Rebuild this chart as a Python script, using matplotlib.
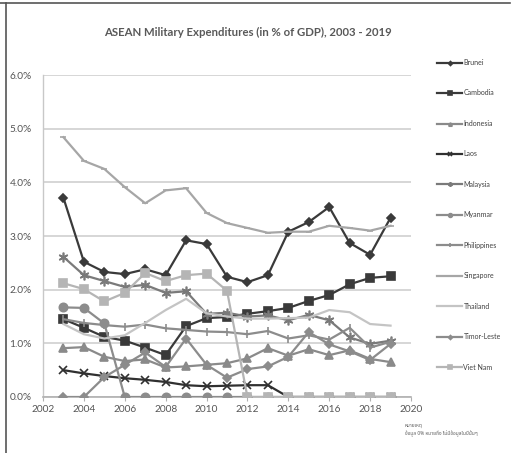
import matplotlib
matplotlib.use('Agg')
from matplotlib import pyplot as plt
from matplotlib.lines import Line2D
from matplotlib.ticker import FuncFormatter

years = list(range(2003, 2020))

countries = ['Brunei', 'Cambodia', 'Indonesia', 'Laos', 'Malaysia', 'Myanmar',
             'Philippines', 'Singapore', 'Thailand', 'Timor-Leste', 'Viet Nam']

# % of GDP (0 = no data)
brunei = [3.71, 2.52, 2.33, 2.29, 2.38, 2.27, 2.92, 2.85, 2.24, 2.14, 2.27, 3.08, 3.26, 3.54, 2.87, 2.65, 3.34]
cambodia = [1.45, 1.29, 1.12, 1.05, 0.92, 0.78, 1.32, 1.47, 1.49, 1.55, 1.60, 1.66, 1.79, 1.90, 2.10, 2.22, 2.25]
indonesia = [0.91, 0.93, 0.75, 0.67, 0.70, 0.55, 0.57, 0.60, 0.63, 0.72, 0.91, 0.77, 0.89, 0.78, 0.87, 0.71, 0.65]
laos = [0.50, 0.44, 0.39, 0.35, 0.32, 0.28, 0.22, 0.20, 0.21, 0.22, 0.22, 0, 0, 0, 0, 0, 0]
malaysia = [2.61, 2.27, 2.16, 2.05, 2.09, 1.94, 1.97, 1.55, 1.57, 1.50, 1.52, 1.43, 1.53, 1.43, 1.11, 0.99, 1.05]
myanmar = [1.67, 1.66, 1.37, 0, 0, 0, 0, 0, 0, 0, 0, 0, 0, 0, 0, 0, 0]
philippines = [1.45, 1.38, 1.34, 1.31, 1.35, 1.28, 1.25, 1.22, 1.21, 1.17, 1.23, 1.09, 1.15, 1.07, 1.29, 0.92, 1.03]
singapore = [4.84, 4.40, 4.25, 3.91, 3.61, 3.85, 3.89, 3.43, 3.24, 3.15, 3.06, 3.08, 3.08, 3.19, 3.15, 3.10, 3.19]
thailand = [1.36, 1.17, 1.09, 1.15, 1.38, 1.62, 1.83, 1.56, 1.50, 1.46, 1.46, 1.47, 1.48, 1.62, 1.58, 1.36, 1.33]
timor_leste = [0, 0, 0.37, 0.60, 0.83, 0.56, 1.09, 0.60, 0.36, 0.52, 0.57, 0.75, 1.21, 0.98, 0.85, 0.69, 0.99]
viet_nam = [2.12, 2.01, 1.78, 1.94, 2.31, 2.16, 2.27, 2.30, 1.98, 0, 0, 0, 0, 0, 0, 0, 0]

series = [brunei, cambodia, indonesia, laos, malaysia, myanmar,
          philippines, singapore, thailand, timor_leste, viet_nam]

# colour, marker, marker size for each country (Excel-style grey palette)
styles = [
    ('#3a3a3a', 'D', 4.5),
    ('#3a3a3a', 's', 5.5),
    ('#8a8a8a', '^', 5.5),
    ('#303030', 'x', 6),
    ('#7a7a7a', (6, 2, 0), 7),
    ('#8c8c8c', 'o', 6),
    ('#8c8c8c', '|', 6),
    ('#a6a6a6', '_', 5),
    ('#c4c4c4', None, 0),
    ('#8c8c8c', 'D', 4.5),
    ('#b5b5b5', 's', 6),
]

fig = plt.figure(figsize=(5.16, 4.53), dpi=100)
ax = fig.add_axes([43 / 516, 1 - 397 / 453, 368 / 516, 322 / 453])

handles = []
for name, vals, (col, mk, ms) in zip(countries, series, styles):
    ln, = ax.plot(years, vals, color=col, lw=1.6, marker=mk, markersize=ms,
                  markeredgewidth=1.2, label=name, zorder=3)
    handles.append(ln)

ax.set_xlim(2002, 2020)
ax.set_ylim(0, 6)
ax.set_xticks(range(2002, 2021, 2))
ax.set_yticks(range(0, 7))
ax.yaxis.set_major_formatter(FuncFormatter(lambda v, p: '%.1f%%' % v))
ax.grid(axis='y', color='#d0d0d0', lw=1.2)
ax.set_axisbelow(True)
for s in ['top', 'right']:
    ax.spines[s].set_visible(False)
ax.spines['left'].set_color('#c8c8c8')
ax.spines['bottom'].set_color('#b0b0b0')
ax.spines['left'].set_linewidth(1)
ax.spines['bottom'].set_linewidth(1.2)
ax.tick_params(axis='y', length=0, pad=8, labelsize=7.3, labelcolor='#555555')
ax.tick_params(axis='x', length=3, color='#b0b0b0', pad=3, labelsize=7.3, labelcolor='#555555')
for t in ax.get_xticklabels() + ax.get_yticklabels():
    t.set_fontfamily('Lato')

fig.text(248 / 516, 1 - 32 / 453, 'ASEAN Military Expenditures (in % of GDP), 2003 - 2019',
         ha='center', va='center', fontsize=8.2, fontweight='bold', color='#595959', family='Lato')

leg = fig.legend(handles=handles, loc='upper left', bbox_to_anchor=(437 / 516, 1 - 59 / 453),
                 frameon=False, fontsize=5, handlelength=3.6, handletextpad=0.2,
                 labelspacing=3.38, markerscale=0.45, borderpad=0, borderaxespad=0,
                 prop={'family': 'Lato', 'size': 5})
for t in leg.get_texts():
    t.set_color('#404040')

fig.text(405 / 516, 1 - 425 / 453, 'หมายเหตุ', fontsize=3.5, color='#606060',
         va='center', family=['Noto Sans Thai', 'Loma', 'Garuda', 'DejaVu Sans'])
fig.text(405 / 516, 1 - 434 / 453, 'ข้อมูล 0% หมายถึง ไม่มีข้อมูลในปีนั้นๆ', fontsize=3.5,
         color='#606060', va='center', family=['Noto Sans Thai', 'Loma', 'Garuda', 'DejaVu Sans'])

# outer frame (top and left edges only)
fig.add_artist(Line2D([0, 510 / 516], [1 - 3 / 453, 1 - 3 / 453], color='#555555', lw=1.2))
fig.add_artist(Line2D([6 / 516, 6 / 516], [0, 1 - 3 / 453], color='#555555', lw=1.2))

fig.savefig('out.png', dpi=100)
